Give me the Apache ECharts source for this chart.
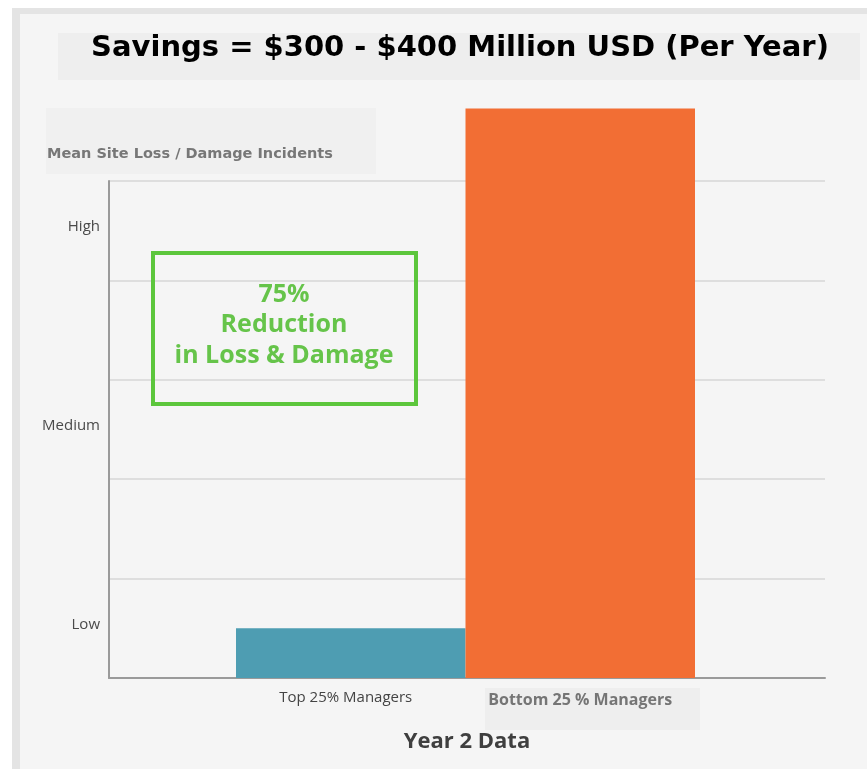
<!DOCTYPE html>
<html>
<head>
<meta charset="utf-8">
<script src="https://cdn.jsdelivr.net/npm/echarts@6/dist/echarts.min.js"></script>
<style>
html,body{margin:0;padding:0;background:#ffffff;}
#chart{width:867px;height:769px;}
</style>
</head>
<body>
<div id="chart"></div>
<script>
// ---- data ----
const categories = ['Top 25% Managers', 'Bottom 25 % Managers'];
const values = [0.5, 5.73];
const yTickLabels = ['Low', '', 'Medium', '', 'High'];
const titleText = 'Savings = $300 - $400 Million USD (Per Year)';
const yAxisTitle = 'Mean Site Loss / Damage Incidents';
const xAxisTitle = 'Year 2 Data';
const calloutLines = ['75%', 'Reduction', 'in Loss & Damage'];

const barColors = ['#4e9db2', '#f26e34'];
const FONT = '"Open Sans", "Noto Sans", sans-serif';
const WIDE = '"DejaVu Sans", "Open Sans", sans-serif';

const chart = echarts.init(document.getElementById('chart'), null, {renderer: 'canvas'});

const option = {
  backgroundColor: '#f5f5f5',
  animation: false,
  grid: [
    {left: 109, top: 181, width: 716, height: 497, outerBoundsMode: 'none', containLabel: false},
    {left: 236, top: 181, width: 459, height: 497, outerBoundsMode: 'none', containLabel: false}
  ],
  xAxis: [
    {
      type: 'category', gridIndex: 0, data: [''],
      axisLine: {show: true, lineStyle: {color: '#9a9a9a', width: 2}},
      axisTick: {show: false}, axisLabel: {show: false}, splitLine: {show: false}
    },
    {
      type: 'category', gridIndex: 1, data: categories,
      axisLine: {show: false}, axisTick: {show: false}, splitLine: {show: false},
      axisLabel: {
        margin: 10,
        interval: 0,
        formatter: function (v, i) { return i === 0 ? '{a|' + v + '}' : '{b|' + v + '}'; },
        rich: {
          a: {color: '#444444', fontSize: 15, fontFamily: FONT, padding: [2, 10, 0, 0]},
          b: {color: '#757575', fontSize: 16, fontWeight: 'bold', fontFamily: FONT, padding: [4, 0, 0, 0]}
        }
      }
    }
  ],
  yAxis: [
    {
      type: 'value', gridIndex: 0, min: 0, max: 5, interval: 1, position: 'left',
      axisLine: {show: true, lineStyle: {color: '#9a9a9a', width: 2}},
      axisTick: {show: false}, axisLabel: {show: false},
      splitLine: {show: true, lineStyle: {color: '#dedede', width: 2}}
    },
    {
      type: 'category', gridIndex: 0, data: yTickLabels, boundaryGap: true, position: 'left',
      axisLine: {show: false}, axisTick: {show: false}, splitLine: {show: false},
      axisLabel: {
        show: true, interval: 0, margin: 9,
        formatter: function (v) { return v ? '{t|' + v + '}' : ''; },
        rich: {t: {color: '#4a4a4a', fontSize: 15, fontFamily: FONT, padding: [0, 0, 7, 0]}}
      }
    },
    {
      type: 'value', gridIndex: 1, min: 0, max: 5, interval: 1, show: false
    }
  ],
  series: [
    {
      type: 'bar', xAxisIndex: 1, yAxisIndex: 2,
      barCategoryGap: '0%', clip: false,
      data: values.map((v, i) => ({value: v, itemStyle: {color: barColors[i]}}))
    }
  ],
  graphic: [
    // outer frame
    {type: 'rect', z: -10, shape: {x: 0, y: 0, width: 867, height: 8}, style: {fill: '#ffffff'}},
    {type: 'rect', z: -10, shape: {x: 0, y: 0, width: 12, height: 769}, style: {fill: '#ffffff'}},
    {type: 'rect', z: -9, shape: {x: 12, y: 8, width: 855, height: 6}, style: {fill: '#e4e4e4'}},
    {type: 'rect', z: -9, shape: {x: 12, y: 8, width: 8, height: 761}, style: {fill: '#e4e4e4'}},
    // title box
    {type: 'rect', z: -5, shape: {x: 58, y: 33, width: 802, height: 47}, style: {fill: '#eeeeee'}},
    {type: 'text', z: 10, x: 460, y: 48, style: {text: titleText, fill: '#000000', font: 'bold 29px ' + WIDE, align: 'center', verticalAlign: 'middle'}},
    // y axis title box
    {type: 'rect', z: -5, shape: {x: 46, y: 108, width: 330, height: 66}, style: {fill: '#f0f0f0'}},
    {type: 'text', z: 10, x: 47, y: 154, style: {text: yAxisTitle, fill: '#777777', font: 'bold 14.5px ' + WIDE, align: 'left', verticalAlign: 'middle'}},
    // bottom label box
    {type: 'rect', z: -5, shape: {x: 485, y: 688, width: 215, height: 42}, style: {fill: '#eeeeee'}},
    // callout
    {type: 'rect', z: 10, shape: {x: 153, y: 253, width: 263, height: 151}, style: {fill: 'none', stroke: '#5cc63c', lineWidth: 4}},
    {type: 'text', z: 10, x: 284, y: 295, style: {text: calloutLines[0], fill: '#66c44a', font: 'bold 25px ' + FONT, align: 'center', verticalAlign: 'middle'}},
    {type: 'text', z: 10, x: 284, y: 325, style: {text: calloutLines[1], fill: '#66c44a', font: 'bold 25px ' + FONT, align: 'center', verticalAlign: 'middle'}},
    {type: 'text', z: 10, x: 284, y: 356, style: {text: calloutLines[2], fill: '#66c44a', font: 'bold 25px ' + FONT, align: 'center', verticalAlign: 'middle'}},
    // x axis title
    {type: 'text', z: 10, x: 467, y: 742, style: {text: xAxisTitle, fill: '#3f3f3f', font: 'bold 22px ' + FONT, align: 'center', verticalAlign: 'middle'}}
  ]
};
chart.setOption(option);
</script>
</body>
</html>
